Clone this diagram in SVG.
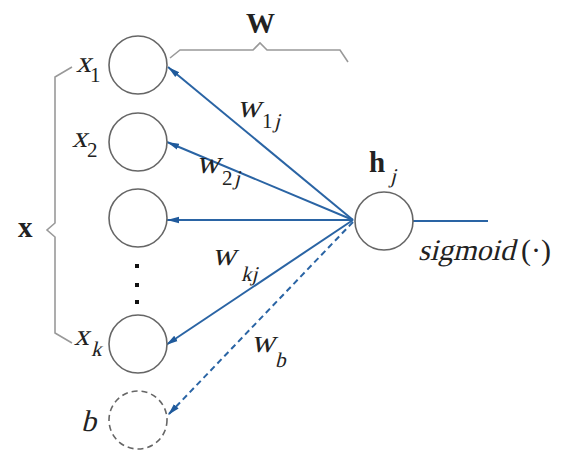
<svg xmlns="http://www.w3.org/2000/svg" width="563" height="452" viewBox="0 0 563 452">
<style>
.node{fill:#fff;stroke:#666;stroke-width:1.6}
.dash{stroke-dasharray:6 4}
.edge{stroke:#2a64a4;stroke-width:2;fill:none}
.brace{fill:none;stroke:#999;stroke-width:1.6}
.t{font-family:"Liberation Serif","Times New Roman",serif;fill:#222;font-size:30px}
.b{font-weight:bold;font-size:29px}
.w{font-size:33px}
.s{font-size:21px}
</style>
<defs>
<marker id="ah" viewBox="0 0 12 8" refX="12" refY="4" markerWidth="12" markerHeight="8" markerUnits="userSpaceOnUse" orient="auto">
<path d="M0,0.8 L12,4 L0,7.2 Z" fill="#1f5a9c"/>
</marker>
</defs>
<g id="connectors">
<line class="edge" x1="353" y1="220" x2="168" y2="67" marker-end="url(#ah)"/>
<line class="edge" x1="353" y1="220" x2="167" y2="142" marker-end="url(#ah)"/>
<line class="edge" x1="353" y1="220" x2="167" y2="220" marker-end="url(#ah)"/>
<line class="edge" x1="353" y1="220" x2="166" y2="345" marker-end="url(#ah)"/>
<line class="edge dash" x1="353" y1="222" x2="168" y2="415" marker-end="url(#ah)"/>
<line class="edge" x1="413" y1="221" x2="488" y2="221"/>
</g>
<g id="braces">
<path class="brace" d="M72,67 L55,77 L55,223 L47,230 L55,237 L55,333 L72,343"/>
<path class="brace" d="M170,58 L180,50 L253,50 L260,43 L267,50 L340,50 L348,62"/>
<text class="t b" x="18" y="237">x</text>
<text class="t b" x="246" y="33">W</text>
</g>
<g id="x1">
<circle class="node" cx="138" cy="65" r="29"/>
<text class="t" transform="translate(76,72) skewX(-14)">x</text><text class="t s" x="90" y="82">1</text>
</g>
<g id="x2">
<circle class="node" cx="138" cy="142" r="29"/>
<text class="t" transform="translate(72,147) skewX(-14)">x</text><text class="t s" x="87" y="157">2</text>
</g>
<g id="x3">
<circle class="node" cx="138" cy="218" r="29"/>
</g>
<g id="dots" fill="#111">
<rect x="135" y="264" width="4" height="4"/>
<rect x="135" y="283" width="4" height="4"/>
<rect x="135" y="300" width="4" height="4"/>
</g>
<g id="xk">
<circle class="node" cx="138" cy="344" r="29"/>
<text class="t" transform="translate(74,345) skewX(-14)">x</text><text class="t s" transform="translate(91,356) skewX(-14)">k</text>
</g>
<g id="b">
<circle class="node dash" cx="138" cy="420" r="29"/>
<text class="t" transform="translate(81,431) skewX(-14)">b</text>
</g>
<g id="hj">
<circle class="node" cx="384" cy="221" r="29"/>
<text class="t b" x="369" y="172">h</text><text class="t s" transform="translate(390,183) skewX(-14)">j</text>
<text class="t" font-size="32" transform="translate(418,260) skewX(-14)">sigmoid</text>
<text class="t" font-size="34" x="521" y="260">(·)</text>
</g>
<g id="labels">
<text class="t w" transform="translate(237,117) skewX(-14)">w</text><text class="t s" x="262" y="128">1</text><text class="t s" transform="translate(274,128) skewX(-14)">j</text>
<text class="t w" transform="translate(196,173) skewX(-14)">w</text><text class="t s" x="222" y="185">2</text><text class="t s" transform="translate(234,185) skewX(-14)">j</text>
<text class="t w" transform="translate(212,265) skewX(-14)">w</text><text class="t s" transform="translate(241,281) skewX(-14)">kj</text>
<text class="t w" transform="translate(251,352) skewX(-14)">w</text><text class="t s" transform="translate(275,367) skewX(-14)">b</text>
</g>
</svg>
